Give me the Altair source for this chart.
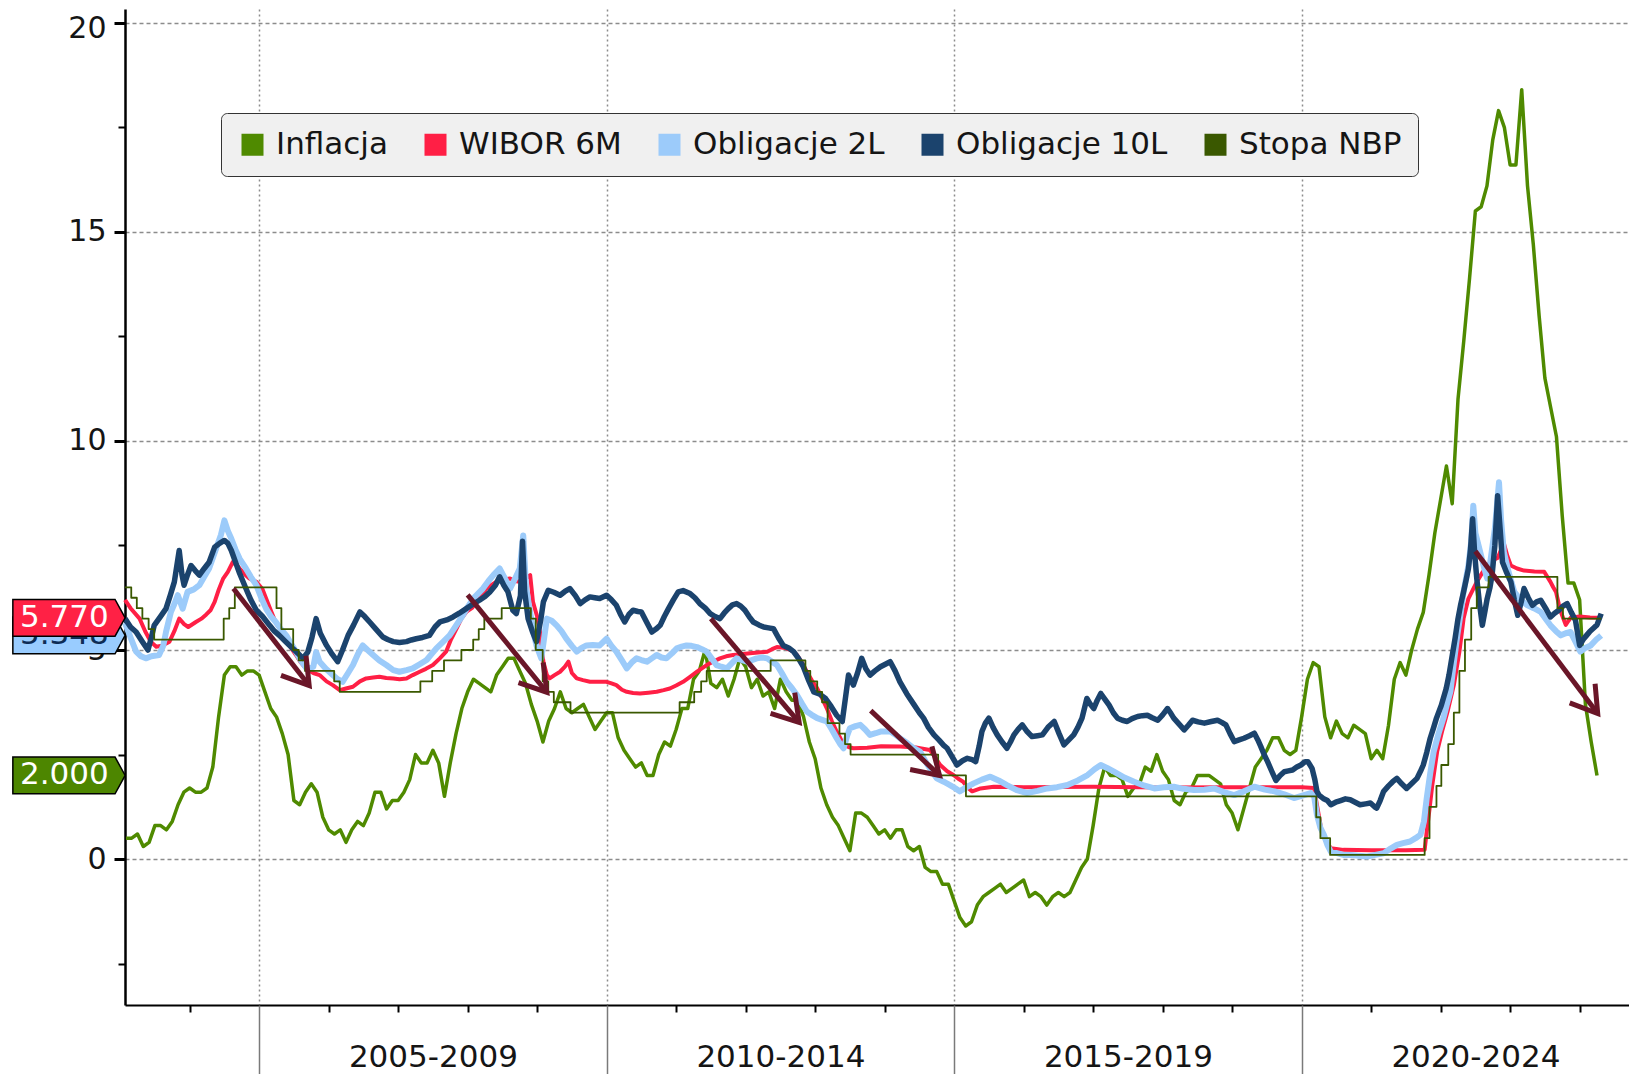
import math
import altair as alt
import pandas as pd

# ---------------------------------------------------------------- data
series_names = ["Inflacja", "WIBOR 6M", "Obligacje 2L", "Obligacje 10L", "Stopa NBP"]
series_colors = ["#4f8a00", "#ff1f45", "#9ccbfa", "#1b436d", "#3a5800"]

# CPI y/y, monthly from Jan 2003 (plotted at month end)
cpi_first_year = 2003
cpi_values = [
    0.5, 0.5, 0.6, 0.3, 0.4, 0.8, 0.8, 0.7, 0.9, 1.3, 1.6, 1.7,
    1.6, 1.6, 1.7, 2.2, 3.4, 4.4, 4.6, 4.6, 4.4, 4.5, 4.5, 4.4,
    4.0, 3.6, 3.4, 3.0, 2.5, 1.4, 1.3, 1.6, 1.8, 1.6, 1.0, 0.7,
    0.6, 0.7, 0.4, 0.7, 0.9, 0.8, 1.1, 1.6, 1.6, 1.2, 1.4, 1.4,
    1.6, 1.9, 2.5, 2.3, 2.3, 2.6, 2.3, 1.5, 2.3, 3.0, 3.6, 4.0,
    4.3, 4.2, 4.1, 4.0, 4.4, 4.6, 4.8, 4.8, 4.5, 4.2, 3.7, 3.3,
    2.8, 3.3, 3.6, 4.0, 3.6, 3.5, 3.6, 3.7, 3.4, 3.1, 3.3, 3.5,
    3.5, 2.9, 2.6, 2.4, 2.2, 2.3, 2.0, 2.0, 2.5, 2.8, 2.7, 3.1,
    3.6, 3.6, 4.3, 4.5, 5.0, 4.2, 4.1, 4.3, 3.9, 4.3, 4.8, 4.6,
    4.1, 4.3, 3.9, 4.0, 3.6, 4.3, 4.0, 3.8, 3.8, 3.4, 2.8, 2.4,
    1.7, 1.3, 1.0, 0.8, 0.5, 0.2, 1.1, 1.1, 1.0, 0.8, 0.6, 0.7,
    0.5, 0.7, 0.7, 0.3, 0.2, 0.3, -0.2, -0.3, -0.3, -0.6, -0.6, -1.0,
    -1.4, -1.6, -1.5, -1.1, -0.9, -0.8, -0.7, -0.6, -0.8, -0.7, -0.6, -0.5,
    -0.9, -0.8, -0.9, -1.1, -0.9, -0.8, -0.9, -0.8, -0.5, -0.2, 0.0, 0.8,
    1.7, 2.2, 2.0, 2.0, 1.9, 1.5, 1.7, 1.8, 2.2, 2.1, 2.5, 2.1,
    1.9, 1.4, 1.3, 1.6, 1.7, 2.0, 2.0, 2.0, 1.9, 1.8, 1.3, 1.1,
    0.7, 1.2, 1.7, 2.2, 2.4, 2.6, 2.9, 2.9, 2.6, 2.5, 2.6, 3.4,
    4.3, 4.7, 4.6, 3.4, 2.9, 3.3, 3.0, 2.9, 3.2, 3.1, 3.0, 2.4,
    2.6, 2.4, 3.2, 4.3, 4.7, 4.4, 5.0, 5.5, 5.9, 6.8, 7.8, 8.6,
    9.4, 8.5, 11.0, 12.4, 13.9, 15.5, 15.6, 16.1, 17.2, 17.9, 17.5, 16.6,
    16.6, 18.4, 16.1, 14.7, 13.0, 11.5, 10.8, 10.1, 8.2, 6.6, 6.6, 6.2,
    3.7, 2.8, 2.0,
]

wibor_points = [
    (2003.07, 6.20), (2003.15, 6.00), (2003.28, 5.75), (2003.36, 5.45), (2003.44, 5.20), (2003.52, 5.08),
    (2003.60, 5.10), (2003.71, 5.20), (2003.78, 5.45), (2003.85, 5.75), (2003.92, 5.62), (2003.98, 5.55),
    (2004.09, 5.67), (2004.17, 5.75), (2004.24, 5.85), (2004.30, 5.95), (2004.36, 6.15), (2004.42, 6.45),
    (2004.48, 6.70), (2004.55, 6.87), (2004.62, 7.10), (2004.67, 7.05), (2004.72, 6.95), (2004.80, 6.80),
    (2004.86, 6.71), (2004.96, 6.63), (2005.05, 6.45), (2005.12, 6.15), (2005.18, 5.90), (2005.24, 5.65),
    (2005.32, 5.45), (2005.39, 5.25), (2005.46, 5.05), (2005.53, 4.88), (2005.60, 4.70), (2005.68, 4.55),
    (2005.78, 4.45), (2005.87, 4.40), (2005.97, 4.25), (2006.06, 4.16), (2006.16, 4.04), (2006.25, 4.08),
    (2006.35, 4.12), (2006.45, 4.25), (2006.54, 4.32), (2006.64, 4.34), (2006.73, 4.36), (2006.83, 4.33),
    (2006.93, 4.32), (2007.02, 4.30), (2007.12, 4.32), (2007.21, 4.40), (2007.31, 4.48), (2007.40, 4.55),
    (2007.50, 4.64), (2007.60, 4.80), (2007.69, 4.96), (2007.76, 5.25), (2007.84, 5.51), (2007.91, 5.75),
    (2007.98, 5.91), (2008.06, 6.00), (2008.13, 6.15), (2008.20, 6.30), (2008.27, 6.47), (2008.34, 6.55),
    (2008.41, 6.63), (2008.50, 6.68), (2008.61, 6.71), (2008.68, 6.65), (2008.75, 6.63), (2008.82, 6.70),
    (2008.90, 6.79), (2008.94, 6.15), (2009.00, 5.80), (2009.04, 5.43), (2009.09, 4.72), (2009.14, 4.40),
    (2009.18, 4.32), (2009.25, 4.40), (2009.33, 4.48), (2009.40, 4.60), (2009.45, 4.72), (2009.50, 4.45),
    (2009.57, 4.32), (2009.66, 4.28), (2009.76, 4.24), (2009.88, 4.24), (2010.00, 4.24), (2010.07, 4.20),
    (2010.14, 4.16), (2010.22, 4.05), (2010.29, 4.00), (2010.38, 3.97), (2010.48, 3.96), (2010.60, 3.98),
    (2010.72, 4.00), (2010.82, 4.04), (2010.91, 4.08), (2011.00, 4.15), (2011.10, 4.24), (2011.20, 4.36),
    (2011.30, 4.48), (2011.37, 4.56), (2011.44, 4.64), (2011.53, 4.72), (2011.63, 4.80), (2011.72, 4.85),
    (2011.82, 4.88), (2011.94, 4.90), (2012.06, 4.92), (2012.18, 4.94), (2012.31, 4.96), (2012.38, 5.02),
    (2012.45, 5.07), (2012.52, 5.06), (2012.59, 5.04), (2012.67, 4.98), (2012.74, 4.88), (2012.81, 4.70),
    (2012.88, 4.48), (2012.95, 4.28), (2013.03, 4.08), (2013.10, 3.85), (2013.17, 3.60), (2013.24, 3.30),
    (2013.31, 3.05), (2013.36, 2.90), (2013.41, 2.73), (2013.48, 2.68), (2013.55, 2.65), (2013.75, 2.66),
    (2013.95, 2.70), (2014.22, 2.69), (2014.45, 2.67), (2014.65, 2.61), (2014.72, 2.45), (2014.80, 2.25),
    (2014.90, 2.10), (2014.99, 2.01), (2015.06, 1.92), (2015.13, 1.85), (2015.20, 1.70), (2015.26, 1.62),
    (2015.38, 1.69), (2015.57, 1.73), (2016.00, 1.72), (2017.00, 1.73), (2018.00, 1.71), (2019.00, 1.72),
    (2020.00, 1.72), (2020.18, 1.70), (2020.22, 1.30), (2020.28, 0.74), (2020.34, 0.45), (2020.42, 0.26),
    (2020.60, 0.22), (2021.00, 0.21), (2021.50, 0.21), (2021.77, 0.22), (2021.80, 0.66), (2021.84, 1.20),
    (2021.88, 1.77), (2021.95, 2.57), (2022.02, 3.05), (2022.10, 3.53), (2022.19, 4.16), (2022.27, 4.96),
    (2022.33, 5.75), (2022.40, 6.23), (2022.52, 6.63), (2022.60, 6.85), (2022.67, 7.02), (2022.75, 7.15),
    (2022.82, 7.20), (2022.87, 7.40), (2022.91, 7.55), (2022.96, 7.25), (2023.01, 7.02), (2023.10, 6.95),
    (2023.20, 6.90), (2023.35, 6.88), (2023.49, 6.87), (2023.58, 6.63), (2023.62, 6.50), (2023.66, 6.39),
    (2023.70, 6.10), (2023.73, 5.91), (2023.80, 5.60), (2023.84, 5.70), (2023.87, 5.77), (2024.00, 5.80),
    (2024.15, 5.78), (2024.31, 5.77),
]

bond2_points = [
    (2003.07, 5.65), (2003.15, 5.30), (2003.23, 4.96), (2003.30, 4.85), (2003.37, 4.80), (2003.45, 4.85),
    (2003.56, 4.88), (2003.62, 5.10), (2003.66, 5.43), (2003.73, 5.91), (2003.78, 6.10), (2003.83, 6.31),
    (2003.90, 5.99), (2003.97, 6.39), (2004.06, 6.45), (2004.14, 6.55), (2004.21, 6.75), (2004.28, 6.95),
    (2004.38, 7.42), (2004.45, 7.75), (2004.50, 8.10), (2004.55, 7.85), (2004.60, 7.66), (2004.66, 7.40),
    (2004.72, 7.18), (2004.81, 6.95), (2004.88, 6.75), (2004.96, 6.55), (2005.03, 6.25), (2005.10, 5.99),
    (2005.17, 5.80), (2005.24, 5.67), (2005.31, 5.50), (2005.39, 5.35), (2005.46, 5.15), (2005.53, 4.96),
    (2005.60, 4.75), (2005.68, 4.56), (2005.78, 4.60), (2005.82, 4.95), (2005.87, 4.72), (2005.96, 4.55),
    (2006.06, 4.40), (2006.13, 4.30), (2006.20, 4.24), (2006.28, 4.45), (2006.35, 4.64), (2006.42, 4.90),
    (2006.49, 5.11), (2006.56, 5.00), (2006.64, 4.88), (2006.73, 4.75), (2006.83, 4.64), (2006.93, 4.52),
    (2007.02, 4.48), (2007.12, 4.52), (2007.21, 4.56), (2007.31, 4.66), (2007.41, 4.76), (2007.48, 4.90),
    (2007.55, 5.04), (2007.65, 5.20), (2007.74, 5.35), (2007.84, 5.60), (2007.93, 5.83), (2008.01, 6.05),
    (2008.08, 6.23), (2008.15, 6.35), (2008.22, 6.47), (2008.30, 6.65), (2008.37, 6.79), (2008.46, 6.95),
    (2008.54, 6.70), (2008.61, 6.47), (2008.68, 6.70), (2008.75, 6.95), (2008.80, 7.74), (2008.84, 6.50),
    (2008.90, 5.90), (2008.95, 5.40), (2008.99, 5.11), (2009.06, 4.80), (2009.14, 5.75), (2009.21, 5.70),
    (2009.28, 5.59), (2009.35, 5.45), (2009.42, 5.27), (2009.50, 5.10), (2009.57, 4.96), (2009.64, 5.05),
    (2009.71, 5.11), (2009.80, 5.12), (2009.90, 5.11), (2010.00, 5.27), (2010.07, 5.10), (2010.14, 4.96),
    (2010.22, 4.75), (2010.29, 4.56), (2010.36, 4.70), (2010.43, 4.80), (2010.50, 4.76), (2010.58, 4.72),
    (2010.65, 4.80), (2010.72, 4.88), (2010.79, 4.82), (2010.86, 4.80), (2010.94, 4.92), (2011.01, 5.04),
    (2011.08, 5.08), (2011.15, 5.11), (2011.22, 5.10), (2011.30, 5.07), (2011.37, 5.02), (2011.44, 4.96),
    (2011.51, 4.80), (2011.58, 4.64), (2011.65, 4.60), (2011.73, 4.56), (2011.80, 4.68), (2011.87, 4.80),
    (2011.95, 4.76), (2012.02, 4.72), (2012.09, 4.76), (2012.16, 4.80), (2012.24, 4.82), (2012.31, 4.80),
    (2012.38, 4.72), (2012.45, 4.64), (2012.52, 4.45), (2012.59, 4.24), (2012.67, 4.08), (2012.74, 3.92),
    (2012.81, 3.72), (2012.88, 3.53), (2012.95, 3.45), (2013.03, 3.37), (2013.10, 3.33), (2013.17, 3.29),
    (2013.24, 3.10), (2013.31, 2.89), (2013.36, 2.75), (2013.41, 2.65), (2013.46, 2.95), (2013.50, 3.13),
    (2013.58, 3.18), (2013.65, 3.21), (2013.72, 3.10), (2013.79, 2.97), (2013.87, 3.01), (2013.94, 3.05),
    (2014.01, 3.05), (2014.08, 3.05), (2014.15, 2.98), (2014.22, 2.89), (2014.32, 2.78), (2014.42, 2.65),
    (2014.51, 2.57), (2014.60, 2.30), (2014.68, 2.10), (2014.75, 1.93), (2014.85, 1.85), (2014.94, 1.77),
    (2015.01, 1.70), (2015.08, 1.62), (2015.18, 1.72), (2015.28, 1.81), (2015.40, 1.90), (2015.52, 1.97),
    (2015.64, 1.88), (2015.76, 1.77), (2015.90, 1.65), (2016.05, 1.58), (2016.20, 1.63), (2016.34, 1.69),
    (2016.48, 1.72), (2016.63, 1.77), (2016.78, 1.88), (2016.92, 2.01), (2017.02, 2.15), (2017.11, 2.25),
    (2017.20, 2.18), (2017.30, 2.09), (2017.45, 1.95), (2017.59, 1.85), (2017.73, 1.76), (2017.88, 1.69),
    (2018.02, 1.72), (2018.16, 1.73), (2018.30, 1.68), (2018.45, 1.65), (2018.60, 1.66), (2018.74, 1.69),
    (2018.88, 1.60), (2019.03, 1.53), (2019.17, 1.62), (2019.32, 1.73), (2019.47, 1.66), (2019.61, 1.62),
    (2019.75, 1.55), (2019.89, 1.46), (2020.01, 1.52), (2020.13, 1.58), (2020.18, 1.50), (2020.22, 1.06),
    (2020.27, 0.75), (2020.32, 0.58), (2020.37, 0.34), (2020.42, 0.18), (2020.51, 0.14), (2020.60, 0.10),
    (2020.70, 0.10), (2020.82, 0.08), (2020.94, 0.06), (2021.06, 0.10), (2021.18, 0.14), (2021.28, 0.25),
    (2021.37, 0.34), (2021.46, 0.38), (2021.56, 0.42), (2021.64, 0.50), (2021.71, 0.58), (2021.76, 0.90),
    (2021.80, 1.46), (2021.85, 2.05), (2021.90, 2.57), (2021.97, 3.00), (2022.04, 3.37), (2022.09, 3.70),
    (2022.14, 4.00), (2022.19, 4.70), (2022.24, 5.35), (2022.29, 5.90), (2022.33, 6.39), (2022.37, 6.75),
    (2022.40, 7.02), (2022.44, 7.60), (2022.47, 8.45), (2022.50, 7.80), (2022.57, 7.34), (2022.62, 7.00),
    (2022.67, 6.71), (2022.71, 7.05), (2022.74, 7.42), (2022.78, 7.90), (2022.84, 9.01), (2022.87, 8.10),
    (2022.91, 7.34), (2022.98, 6.85), (2023.06, 6.39), (2023.15, 6.20), (2023.25, 6.07), (2023.34, 6.00),
    (2023.44, 5.91), (2023.51, 5.75), (2023.58, 5.59), (2023.66, 5.45), (2023.73, 5.35), (2023.80, 5.40),
    (2023.87, 5.43), (2023.94, 5.20), (2024.01, 4.96), (2024.08, 5.05), (2024.16, 5.11), (2024.24, 5.25),
    (2024.31, 5.348),
]

bond10_points = [
    (2003.07, 5.75), (2003.15, 5.55), (2003.23, 5.43), (2003.32, 5.20), (2003.40, 5.00), (2003.45, 5.30),
    (2003.49, 5.59), (2003.58, 5.80), (2003.66, 5.99), (2003.72, 6.30), (2003.78, 6.63), (2003.85, 7.38),
    (2003.89, 6.80), (2003.92, 6.55), (2003.97, 6.80), (2004.02, 7.02), (2004.08, 6.90), (2004.14, 6.79),
    (2004.21, 6.95), (2004.28, 7.10), (2004.36, 7.46), (2004.43, 7.55), (2004.50, 7.62), (2004.55, 7.55),
    (2004.60, 7.38), (2004.66, 7.10), (2004.72, 6.83), (2004.81, 6.47), (2004.88, 6.20), (2004.96, 5.95),
    (2005.05, 5.80), (2005.15, 5.59), (2005.22, 5.45), (2005.29, 5.35), (2005.38, 5.20), (2005.48, 5.04),
    (2005.56, 4.92), (2005.63, 4.80), (2005.70, 4.95), (2005.76, 5.30), (2005.82, 5.75), (2005.88, 5.40),
    (2005.97, 5.11), (2006.05, 4.90), (2006.13, 4.72), (2006.20, 5.00), (2006.28, 5.35), (2006.36, 5.60),
    (2006.45, 5.91), (2006.52, 5.80), (2006.59, 5.67), (2006.68, 5.50), (2006.78, 5.31), (2006.85, 5.25),
    (2006.93, 5.20), (2007.02, 5.18), (2007.12, 5.20), (2007.19, 5.24), (2007.26, 5.27), (2007.35, 5.30),
    (2007.45, 5.35), (2007.53, 5.55), (2007.60, 5.67), (2007.70, 5.72), (2007.79, 5.79), (2007.88, 5.88),
    (2007.98, 5.99), (2008.08, 6.10), (2008.17, 6.19), (2008.25, 6.28), (2008.32, 6.39), (2008.40, 6.55),
    (2008.46, 6.75), (2008.52, 6.55), (2008.58, 6.39), (2008.65, 5.95), (2008.70, 5.87), (2008.76, 6.30),
    (2008.79, 7.60), (2008.82, 6.40), (2008.87, 5.75), (2008.93, 5.45), (2008.99, 5.20), (2009.05, 5.70),
    (2009.09, 6.15), (2009.16, 6.43), (2009.24, 6.38), (2009.33, 6.31), (2009.40, 6.40), (2009.47, 6.47),
    (2009.55, 6.30), (2009.62, 6.11), (2009.69, 6.20), (2009.76, 6.27), (2009.83, 6.25), (2009.90, 6.23),
    (2010.00, 6.31), (2010.07, 6.20), (2010.14, 6.07), (2010.20, 5.85), (2010.26, 5.67), (2010.32, 5.85),
    (2010.38, 5.95), (2010.45, 5.92), (2010.50, 5.91), (2010.58, 5.65), (2010.65, 5.43), (2010.71, 5.50),
    (2010.77, 5.59), (2010.83, 5.80), (2010.89, 5.99), (2010.96, 6.20), (2011.03, 6.39), (2011.10, 6.42),
    (2011.20, 6.35), (2011.27, 6.25), (2011.34, 6.11), (2011.42, 6.00), (2011.49, 5.87), (2011.56, 5.80),
    (2011.63, 5.75), (2011.69, 5.88), (2011.75, 5.99), (2011.81, 6.08), (2011.87, 6.11), (2011.93, 6.05),
    (2011.99, 5.95), (2012.05, 5.80), (2012.11, 5.67), (2012.19, 5.60), (2012.26, 5.55), (2012.33, 5.53),
    (2012.40, 5.51), (2012.47, 5.30), (2012.54, 5.11), (2012.62, 5.05), (2012.69, 4.96), (2012.76, 4.80),
    (2012.83, 4.60), (2012.90, 4.30), (2012.98, 4.00), (2013.06, 3.95), (2013.15, 3.84), (2013.23, 3.65),
    (2013.31, 3.44), (2013.39, 3.29), (2013.44, 3.90), (2013.48, 4.40), (2013.55, 4.16), (2013.61, 4.45),
    (2013.67, 4.80), (2013.73, 4.55), (2013.79, 4.40), (2013.86, 4.50), (2013.94, 4.60), (2014.01, 4.66),
    (2014.08, 4.72), (2014.15, 4.50), (2014.22, 4.24), (2014.32, 3.95), (2014.42, 3.70), (2014.50, 3.50),
    (2014.56, 3.37), (2014.63, 3.15), (2014.71, 2.97), (2014.78, 2.85), (2014.85, 2.72), (2014.90, 2.65),
    (2014.97, 2.45), (2015.04, 2.25), (2015.12, 2.35), (2015.19, 2.41), (2015.26, 2.38), (2015.31, 2.33),
    (2015.36, 2.70), (2015.40, 3.05), (2015.45, 3.25), (2015.50, 3.37), (2015.56, 3.15), (2015.62, 2.97),
    (2015.69, 2.80), (2015.76, 2.65), (2015.81, 2.80), (2015.86, 2.97), (2015.92, 3.10), (2015.98, 3.21),
    (2016.05, 3.05), (2016.12, 2.93), (2016.20, 2.95), (2016.27, 2.97), (2016.35, 3.15), (2016.44, 3.29),
    (2016.51, 3.00), (2016.58, 2.73), (2016.65, 2.85), (2016.72, 2.97), (2016.78, 3.15), (2016.84, 3.37),
    (2016.91, 3.84), (2016.96, 3.70), (2017.01, 3.60), (2017.06, 3.80), (2017.11, 3.96), (2017.17, 3.82),
    (2017.23, 3.68), (2017.29, 3.50), (2017.35, 3.37), (2017.42, 3.32), (2017.49, 3.29), (2017.56, 3.36),
    (2017.64, 3.41), (2017.71, 3.43), (2017.78, 3.44), (2017.85, 3.38), (2017.93, 3.32), (2018.00, 3.45),
    (2018.07, 3.60), (2018.12, 3.48), (2018.16, 3.37), (2018.24, 3.22), (2018.31, 3.09), (2018.37, 3.20),
    (2018.43, 3.32), (2018.51, 3.28), (2018.60, 3.25), (2018.70, 3.29), (2018.79, 3.32), (2018.85, 3.27),
    (2018.91, 3.21), (2018.97, 3.00), (2019.03, 2.81), (2019.10, 2.85), (2019.17, 2.89), (2019.25, 2.95),
    (2019.32, 3.01), (2019.37, 2.85), (2019.41, 2.70), (2019.46, 2.50), (2019.51, 2.33), (2019.57, 2.10),
    (2019.63, 1.88), (2019.69, 2.00), (2019.75, 2.09), (2019.81, 2.11), (2019.87, 2.13), (2019.93, 2.20),
    (2019.99, 2.25), (2020.05, 2.33), (2020.09, 2.33), (2020.15, 2.17), (2020.19, 1.90), (2020.22, 1.62),
    (2020.25, 1.53), (2020.31, 1.45), (2020.37, 1.40), (2020.42, 1.30), (2020.49, 1.36), (2020.56, 1.40),
    (2020.63, 1.44), (2020.70, 1.42), (2020.77, 1.36), (2020.84, 1.30), (2020.92, 1.32), (2020.99, 1.34),
    (2021.05, 1.25), (2021.08, 1.22), (2021.13, 1.40), (2021.18, 1.62), (2021.25, 1.75), (2021.31, 1.85),
    (2021.37, 1.93), (2021.44, 1.80), (2021.51, 1.69), (2021.58, 1.80), (2021.66, 1.93), (2021.71, 2.10),
    (2021.75, 2.25), (2021.80, 2.55), (2021.85, 2.89), (2021.90, 3.15), (2021.94, 3.37), (2022.01, 3.68),
    (2022.08, 4.08), (2022.12, 4.40), (2022.16, 4.80), (2022.21, 5.30), (2022.25, 5.75), (2022.29, 6.10),
    (2022.33, 6.39), (2022.37, 6.70), (2022.40, 6.95), (2022.43, 7.40), (2022.46, 8.14), (2022.49, 7.30),
    (2022.52, 6.71), (2022.56, 6.10), (2022.60, 5.59), (2022.64, 5.95), (2022.67, 6.23), (2022.71, 6.50),
    (2022.74, 6.79), (2022.78, 7.50), (2022.82, 8.69), (2022.86, 7.80), (2022.89, 7.10), (2022.95, 6.85),
    (2023.01, 6.63), (2023.06, 6.20), (2023.11, 5.83), (2023.16, 6.15), (2023.20, 6.47), (2023.26, 6.25),
    (2023.32, 6.07), (2023.38, 6.15), (2023.44, 6.19), (2023.51, 6.00), (2023.58, 5.79), (2023.64, 5.88),
    (2023.70, 5.95), (2023.76, 6.05), (2023.82, 6.11), (2023.88, 5.90), (2023.94, 5.71), (2024.00, 5.11),
    (2024.05, 5.25), (2024.10, 5.35), (2024.15, 5.45), (2024.19, 5.51), (2024.25, 5.60), (2024.31, 5.87),
]

# NBP reference rate: (date of change, new level)
nbp_points = [
    (2003.07, 6.50), (2003.16, 6.25), (2003.24, 6.00), (2003.32, 5.75), (2003.41, 5.50), (2003.49, 5.25),
    (2004.49, 5.75), (2004.57, 6.00), (2004.65, 6.50),
    (2005.25, 6.00), (2005.32, 5.50), (2005.49, 5.00), (2005.57, 4.75), (2005.66, 4.50),
    (2006.08, 4.25), (2006.16, 4.00),
    (2007.32, 4.25), (2007.49, 4.50), (2007.66, 4.75), (2007.91, 5.00),
    (2008.08, 5.25), (2008.16, 5.50), (2008.24, 5.75), (2008.49, 6.00), (2008.91, 5.75), (2008.98, 5.00),
    (2009.08, 4.25), (2009.16, 4.00), (2009.24, 3.75), (2009.48, 3.50),
    (2011.05, 3.75), (2011.26, 4.00), (2011.36, 4.25), (2011.44, 4.50),
    (2012.36, 4.75), (2012.86, 4.50), (2012.93, 4.25),
    (2013.03, 4.00), (2013.10, 3.75), (2013.18, 3.25), (2013.35, 3.00), (2013.43, 2.75), (2013.51, 2.50),
    (2014.77, 2.00), (2015.17, 1.50),
    (2020.21, 1.00), (2020.27, 0.50), (2020.41, 0.10),
    (2021.77, 0.50), (2021.84, 1.25), (2021.94, 1.75),
    (2022.01, 2.25), (2022.11, 2.75), (2022.19, 3.50), (2022.27, 4.50), (2022.35, 5.25), (2022.44, 6.00),
    (2022.52, 6.50), (2022.69, 6.75),
    (2023.68, 6.00), (2023.76, 5.75), (2024.31, 5.75),
]

# annotation arrows: start (year, value) -> tip (year, value)
arrow_start_x = [2004.63, 2008.00, 2011.50, 2013.80, 2022.50]
arrow_start_y = [6.47, 6.32, 5.75, 3.55, 7.36]
arrow_end_x = [2005.72, 2009.14, 2012.77, 2014.79, 2024.26]
arrow_end_y = [4.15, 3.99, 3.27, 2.00, 3.48]

# period labels on the time axis
period_centres = [2007.5, 2012.5, 2017.5, 2022.5]
period_bounds = [2005, 2010, 2015, 2020]

# ---------------------------------------------------------------- layout / style
FONT = "DejaVu Sans"
W, H = 1504, 996
PAD_TOP, PAD_BOTTOM = 1, 69
PX_PER_YEAR = 69.5
X_MIN = 2003.07
X_MAX = X_MIN + W / PX_PER_YEAR
Y_MIN, Y_MAX = -3.49, 20.33
GRID = "#8c8c8c"
ARROW = "#6a1628"
TAG_PATH = "M -1 -0.327 L 0.82 -0.327 L 1 0 L 0.82 0.327 L -1 0.327 Z"
HEAD_PATH = "M -0.53 -0.848 L 0 0 L 0.53 -0.848"

xs = alt.Scale(domain=[X_MIN, X_MAX], nice=False, zero=False)
ys = alt.Scale(domain=[Y_MIN, Y_MAX], nice=False, zero=False)
col = dict(zip(series_names, series_colors))

df_cpi = pd.DataFrame({
    "t": [cpi_first_year + (i + 1) / 12 for i in range(len(cpi_values))],
    "v": cpi_values,
})
df_wibor = pd.DataFrame(wibor_points, columns=["t", "v"])
df_b2 = pd.DataFrame(bond2_points, columns=["t", "v"])
df_b10 = pd.DataFrame(bond10_points, columns=["t", "v"])
df_nbp = pd.DataFrame(nbp_points, columns=["t", "v"])

px_x = W / (X_MAX - X_MIN)
px_y = H / (Y_MAX - Y_MIN)
angles = []
for x0, y0, x1, y1 in zip(arrow_start_x, arrow_start_y, arrow_end_x, arrow_end_y):
    dx = (x1 - x0) * px_x
    dy = (y0 - y1) * px_y
    angles.append(math.degrees(math.atan2(-dx, dy)) % 360)
df_arrows = pd.DataFrame({"x0": arrow_start_x, "y0": arrow_start_y,
                          "x1": arrow_end_x, "y1": arrow_end_y, "ang": angles})

# ---------------------------------------------------------------- axes
five = "datum.value % 5 === 0"
y_axis = alt.Axis(
    orient="left",
    values=[-2.5 + 2.5 * i for i in range(10)], title=None,
    domain=True, domainColor="black", domainWidth=2.5,
    tickColor="black",
    tickSize={"condition": {"test": five, "value": 11}, "value": 7},
    tickWidth={"condition": {"test": five, "value": 3}, "value": 2},
    grid=True, gridDash=[4, 3], gridColor=GRID, gridWidth=1.5,
    gridOpacity={"condition": {"test": five, "value": 1}, "value": 0},
    labelExpr=f"{five} ? datum.label : ''",
    labelOffset={"condition": {"test": "datum.value === 20", "value": 6}, "value": 0},
    labelFont=FONT, labelFontSize=30, labelColor="#151515", labelPadding=8,
    labelOverlap=False, zindex=0,
)
x_axis_years = alt.Axis(
    orient="bottom", values=[y for y in range(2004, 2025) if y % 5], title=None,
    tickSize=7, tickWidth=2, tickColor="black",
    domain=True, domainColor="black", domainWidth=2,
    labels=False, grid=False, zindex=0,
)
x_axis_bounds = alt.Axis(
    orient="bottom", values=period_bounds, title=None,
    tickSize=PAD_BOTTOM, tickWidth=1.5, tickColor="#7a7a7a",
    domain=False, labels=False,
    grid=True, gridDash=[2, 3], gridColor=GRID, gridWidth=1.5, zindex=0,
)
x_axis_periods = alt.Axis(
    orient="bottom", values=period_centres, title=None,
    ticks=False, domain=False, grid=False,
    labelExpr="(floor(datum.value) - 2) + '-' + (floor(datum.value) + 2)",
    labelFont=FONT, labelFontSize=31, labelColor="#151515", labelPadding=37,
    labelFlush=False, labelOverlap=False, zindex=0,
)


def line(df, name, width, axis=None, **kw):
    return alt.Chart(df).mark_line(color=col[name], strokeWidth=width, strokeJoin="round", **kw).encode(
        x=alt.X("t:Q", scale=xs, axis=axis),
        y=alt.Y("v:Q", scale=ys, axis=None),
    )


infl = alt.Chart(df_cpi).mark_line(color=col["Inflacja"], strokeWidth=3.5, strokeJoin="round").encode(
    x=alt.X("t:Q", scale=xs, axis=x_axis_years),
    y=alt.Y("v:Q", scale=ys, axis=y_axis),
)
wibor = line(df_wibor, "WIBOR 6M", 4, axis=x_axis_periods)
b2 = line(df_b2, "Obligacje 2L", 6)
b10 = line(df_b10, "Obligacje 10L", 5.5)
nbp = line(df_nbp, "Stopa NBP", 1.8, axis=x_axis_bounds, interpolate="step-after")

shafts = alt.Chart(df_arrows).mark_rule(color=ARROW, strokeWidth=5, strokeCap="butt").encode(
    x=alt.X("x0:Q", scale=xs, axis=None), x2="x1:Q",
    y=alt.Y("y0:Q", scale=ys, axis=None), y2="y1:Q",
)
heads = alt.Chart(df_arrows).mark_point(
    shape=HEAD_PATH, size=3600, filled=False, strokeWidth=5, color=ARROW,
    opacity=1, strokeJoin="miter", strokeMiterLimit=10,
).encode(
    x=alt.X("x1:Q", scale=xs, axis=None),
    y=alt.Y("y1:Q", scale=ys, axis=None),
    angle=alt.Angle("ang:Q", scale=None),
)

# value tags at the left (last values of the series)
tags = [
    (df_b2["v"].iloc[-1], "#99ccff", "#0e2c55"),
    (df_wibor["v"].iloc[-1], "#ff2145", "#ffffff"),
    (df_cpi["v"].iloc[-1], "#4d8600", "#ffffff"),
]
tag_layers = []
for val, fill, tcol in tags:
    d = pd.DataFrame({"v": [val], "label": [f"{val:.3f}"]})
    tag_layers.append(
        alt.Chart(d).mark_point(shape=TAG_PATH, size=12611, filled=True, fill=fill,
                                stroke="black", strokeWidth=1.5, opacity=1).encode(
            x=alt.value(-56), y=alt.Y("v:Q", scale=ys, axis=None))
    )
    tag_layers.append(
        alt.Chart(d).mark_text(align="left", baseline="middle", font=FONT, fontSize=31, color=tcol).encode(
            x=alt.value(-105), y=alt.Y("v:Q", scale=ys, axis=None), text="label:N")
    )

legend_layer = alt.Chart(pd.DataFrame({"series": series_names})).mark_square(size=0, opacity=1).encode(
    color=alt.Color(
        "series:N",
        scale=alt.Scale(domain=series_names, range=series_colors),
        legend=alt.Legend(
            orient="none", legendX=96, legendY=104, direction="horizontal", title=None,
            symbolType="square", symbolSize=484, symbolStrokeWidth=0,
            labelFont=FONT, labelFontSize=31, labelColor="#151515", labelLimit=400,
            labelOffset=8, columnPadding=32, padding=16,
            fillColor="#f0f0f0", strokeColor="#333333", cornerRadius=6,
        ),
    )
)

chart = alt.layer(
    infl, wibor, b2, b10, nbp, shafts, heads, *tag_layers, legend_layer
).resolve_axis(x="independent", y="independent").properties(
    width=W, height=H,
    autosize=alt.AutoSizeParams(type="none"),
    padding={"left": 117, "top": PAD_TOP, "right": 0, "bottom": PAD_BOTTOM},
).configure(font=FONT).configure_view(stroke=None)

chart.save("out.html", embed_options={"renderer": "svg", "actions": False})
